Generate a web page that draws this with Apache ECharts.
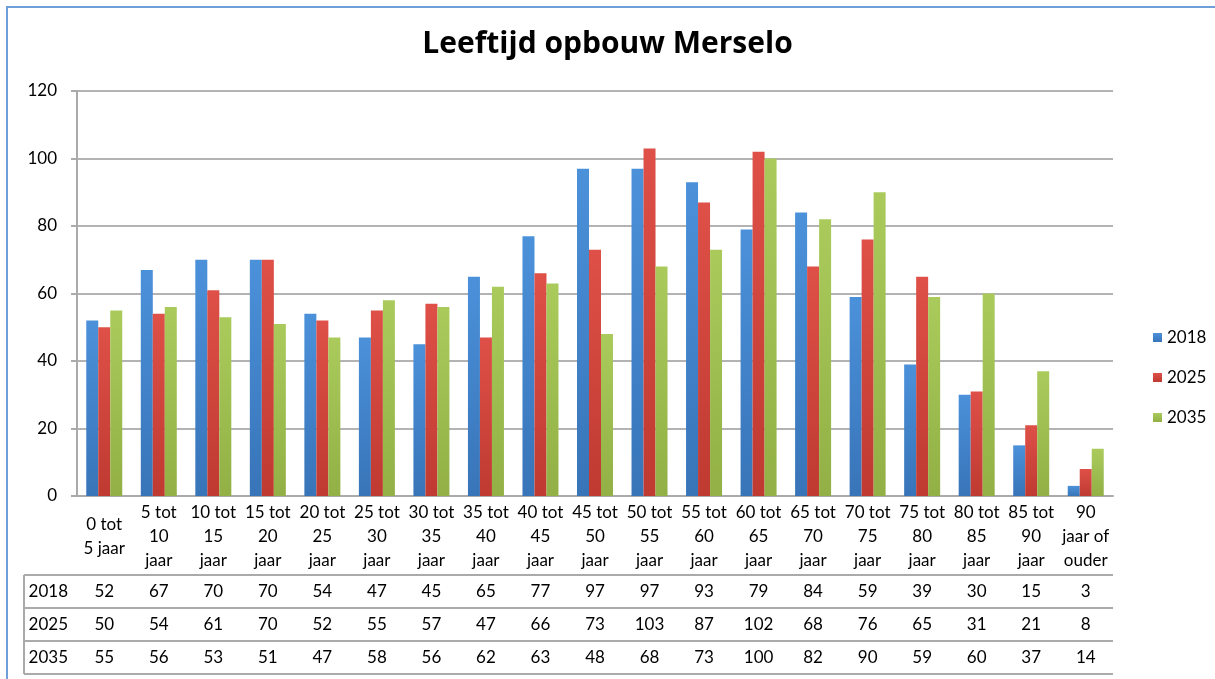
<!DOCTYPE html>
<html>
<head>
<meta charset="utf-8">
<script src="https://cdn.jsdelivr.net/npm/echarts@6/dist/echarts.min.js"></script>
<style>
  html, body { margin: 0; padding: 0; background: #fff; }
  #chart { width: 1215px; height: 679px; }
</style>
</head>
<body>
<div id="chart"></div>
<script>
var categories = ['0 tot\n5 jaar', '5 tot\n10\njaar', '10 tot\n15\njaar', '15 tot\n20\njaar', '20 tot\n25\njaar',
  '25 tot\n30\njaar', '30 tot\n35\njaar', '35 tot\n40\njaar', '40 tot\n45\njaar', '45 tot\n50\njaar',
  '50 tot\n55\njaar', '55 tot\n60\njaar', '60 tot\n65\njaar', '65 tot\n70\njaar', '70 tot\n75\njaar',
  '75 tot\n80\njaar', '80 tot\n85\njaar', '85 tot\n90\njaar', '90\njaar of\nouder'];
var years = ['2018', '2025', '2035'];
var v2018 = [52, 67, 70, 70, 54, 47, 45, 65, 77, 97, 97, 93, 79, 84, 59, 39, 30, 15, 3];
var v2025 = [50, 54, 61, 70, 52, 55, 57, 47, 66, 73, 103, 87, 102, 68, 76, 65, 31, 21, 8];
var v2035 = [55, 56, 53, 51, 47, 58, 56, 62, 63, 48, 68, 73, 100, 82, 90, 59, 60, 37, 14];
var yTicks = [0, 20, 40, 60, 80, 100, 120];

var rows = [v2018, v2025, v2035];
var colors = [['#4b91da', '#3874b8'], ['#de5048', '#bf3a31'], ['#aacb5c', '#92b045']];

// layout
var gridLeft = 77, gridRight = 1113, gridTop = 91, axisY = 496;
var tableLeft = 24, rowH = 33, headerBottom = 575;
var lineColor = '#aaaaaa';
var font = 'Lato, "Open Sans", sans-serif';

var chart = echarts.init(document.getElementById('chart'));

var xAxes = [{
  type: 'category',
  data: categories,
  position: 'bottom',
  axisLine: { lineStyle: { color: lineColor, width: 2 } },
  axisTick: { length: headerBottom - axisY + rowH * 3, lineStyle: { color: lineColor, width: 2 } },
  axisLabel: { interval: 0, color: '#000', fontSize: 17, fontFamily: font, lineHeight: 24,
    verticalAlign: 'middle', margin: 41 }
}];
rows.forEach(function (vals, r) {
  xAxes.push({
    type: 'category',
    data: categories,
    position: 'bottom',
    offset: headerBottom - axisY + rowH * r + rowH / 2,
    name: years[r],
    nameLocation: 'start',
    nameGap: 9,
    nameTextStyle: { color: '#000', fontSize: 17, fontFamily: font, verticalAlign: 'middle' },
    axisLine: { show: false },
    axisTick: { show: false },
    axisLabel: { interval: 0, color: '#000', fontSize: 17, fontFamily: font, verticalAlign: 'middle', margin: 0,
      formatter: function (v, i) { return String(vals[i]); } }
  });
});

var hLines = [];
for (var k = 0; k <= 3; k++) {
  hLines.push({
    type: 'line',
    shape: { x1: tableLeft, y1: headerBottom + rowH * k, x2: gridRight, y2: headerBottom + rowH * k },
    style: { stroke: lineColor, lineWidth: 2 }
  });
}
hLines.push({
  type: 'line',
  shape: { x1: tableLeft, y1: headerBottom, x2: tableLeft, y2: headerBottom + rowH * 3 },
  style: { stroke: lineColor, lineWidth: 2 }
});
hLines.push({
  type: 'rect',
  shape: { x: 7, y: 7, width: 1230, height: 700 },
  style: { fill: 'none', stroke: '#6f9fd8', lineWidth: 2 }
});

var option = {
  backgroundColor: '#fff',
  animation: false,
  title: {
    text: 'Leeftijd opbouw Merselo',
    left: 'center',
    top: 24,
    textStyle: { fontFamily: '"Open Sans", sans-serif', fontWeight: 'bold', fontSize: 30, color: '#000' }
  },
  legend: {
    orient: 'vertical',
    left: 1148,
    top: 324,
    itemWidth: 9,
    itemHeight: 9,
    itemGap: 23,
    icon: 'rect',
    textStyle: { fontFamily: font, fontSize: 17, color: '#000' },
    data: years
  },
  grid: { left: gridLeft, right: 1215 - gridRight, top: gridTop, bottom: 679 - axisY },
  xAxis: xAxes,
  yAxis: {
    type: 'value',
    min: yTicks[0],
    max: yTicks[yTicks.length - 1],
    interval: yTicks[1] - yTicks[0],
    axisLine: { show: true, lineStyle: { color: lineColor, width: 2 } },
    axisTick: { show: true, length: 6, lineStyle: { color: lineColor, width: 2 } },
    axisLabel: { color: '#000', fontSize: 17, fontFamily: font, margin: 20 },
    splitLine: { lineStyle: { color: '#b3b3b3', width: 2 } }
  },
  series: years.map(function (y, i) {
    return {
      name: y,
      type: 'bar',
      data: rows[i],
      barWidth: 12,
      barGap: '0%',
      itemStyle: {
        color: new echarts.graphic.LinearGradient(0, 0, 0, 1, [
          { offset: 0, color: colors[i][0] },
          { offset: 1, color: colors[i][1] }
        ])
      }
    };
  }),
  graphic: hLines
};
chart.setOption(option);
window.addEventListener('resize', chart.resize);
</script>
</body>
</html>
